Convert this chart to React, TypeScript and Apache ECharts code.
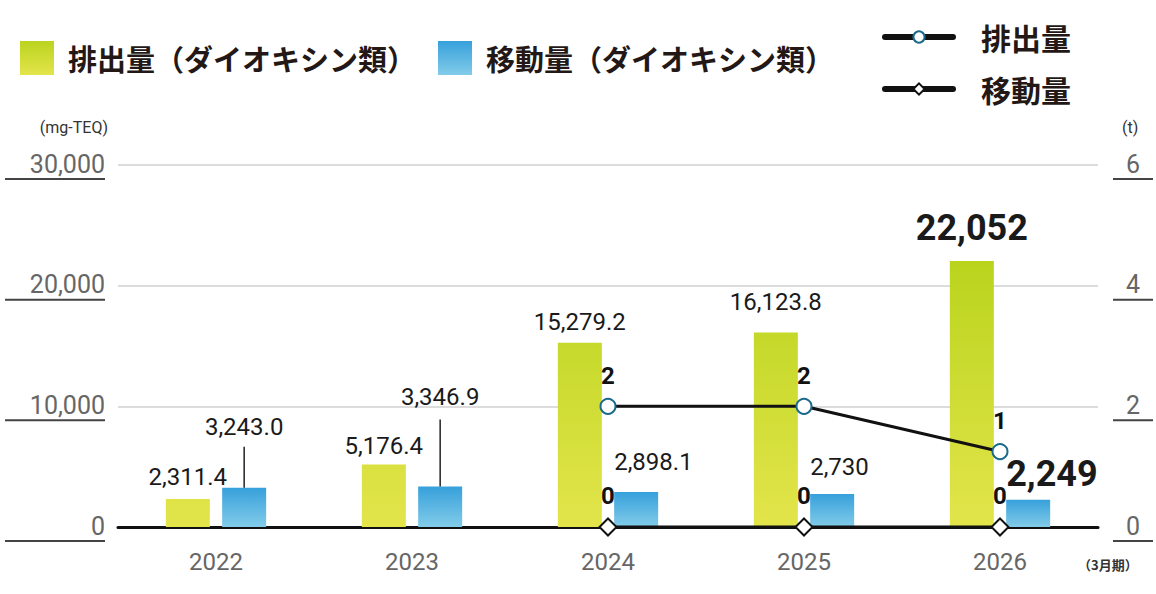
import React, { useEffect, useRef } from 'react';
import * as echarts from 'echarts';

const categories = ['2022', '2023', '2024', '2025', '2026'];
const emissionValues = [2311.4, 5176.4, 15279.2, 16123.8, 22052];
const transferValues = [3243.0, 3346.9, 2898.1, 2730, 2249];
const emissionLabels = ['2,311.4', '5,176.4', '15,279.2', '16,123.8', '22,052'];
const transferLabels = ['3,243.0', '3,346.9', '2,898.1', '2,730', '2,249'];
const emissionTons: (number | null)[] = [null, null, 2, 2, 1.25];
const emissionTonLabels = ['', '', '2', '2', '1'];
const transferTons: (number | null)[] = [null, null, 0, 0, 0];
const transferTonLabels = ['', '', '0', '0', '0'];

const NUM_FONT = 'Roboto, "DejaVu Sans", sans-serif';
const JP_FONT = '"Noto Sans CJK JP", "Noto Sans", sans-serif';
const TEXT_DARK = '#231815';

export default function App() {
  const ref = useRef<HTMLDivElement>(null);

  useEffect(() => {
    const chart = echarts.init(ref.current!, null, { renderer: 'svg' });

    const greenGlobal = new echarts.graphic.LinearGradient(
      0, 250, 0, 527,
      [
        { offset: 0, color: '#b8d31b' },
        { offset: 1, color: '#e3e54b' },
      ],
      true
    );
    const greenLocal = new echarts.graphic.LinearGradient(0, 0, 0, 1, [
      { offset: 0, color: '#bbd41f' },
      { offset: 1, color: '#e3e54b' },
    ]);
    const blueLocal = new echarts.graphic.LinearGradient(0, 0, 0, 1, [
      { offset: 0, color: '#37a0db' },
      { offset: 1, color: '#82cce9' },
    ]);

    const numLabel = {
      fontFamily: NUM_FONT,
      fontSize: 24,
      color: '#1a1a1a',
    };

    const emissionDist = [10, 7, 9, 18, 15];
    const emissionData = emissionValues.map((v, i) => ({
      value: v,
      label:
        i === 4
          ? { ...numLabel, fontSize: 36, fontWeight: 'bold', distance: emissionDist[i], formatter: emissionLabels[i] }
          : { ...numLabel, distance: emissionDist[i], formatter: emissionLabels[i] },
    }));

    const leaderHeights = [41, 67, 0, 0, 0];
    const leaderLineHeights = [40, 46, 0, 0, 0];
    const transferDist = [0, 0, 18, 15, 8];
    const transferData = transferValues.map((v, i) => {
      if (leaderHeights[i] > 0) {
        return {
          value: v,
          label: {
            distance: 0,
            formatter: `{v|${transferLabels[i]}}\n{l|}`,
            rich: {
              v: { ...numLabel, lineHeight: leaderLineHeights[i], align: 'center' },
              l: { width: 1.5, height: leaderHeights[i], backgroundColor: '#222', align: 'center' },
            },
          },
        };
      }
      return {
        value: v,
        label: {
          ...numLabel,
          fontSize: i === 4 ? 36 : 24,
          fontWeight: i === 4 ? 'bold' : 'normal',
          align: 'left',
          offset: [-22, 0],
          distance: transferDist[i],
          formatter: transferLabels[i],
        },
      };
    });

    const option: any = {
      animation: false,
      grid: { left: 118, right: 58, top: 165, bottom: 67 },
      legend: [
        {
          left: 20,
          top: 41,
          padding: 0,
          itemWidth: 34,
          itemHeight: 34,
          itemGap: 22,
          icon: 'rect',
          selectedMode: false,
          textStyle: { fontFamily: JP_FONT, fontSize: 29, fontWeight: 'bold', color: TEXT_DARK, padding: [0, 0, 0, 9] },
          data: [
            { name: '排出量（ダイオキシン類）', itemStyle: { color: greenLocal } },
            { name: '移動量（ダイオキシン類）', itemStyle: { color: blueLocal } },
          ],
        },
        {
          left: 882,
          top: 22,
          padding: 0,
          orient: 'vertical',
          itemWidth: 68,
          itemHeight: 14,
          itemGap: 22,
          selectedMode: false,
          lineStyle: { width: 6, cap: 'round', color: '#111' },
          textStyle: { fontFamily: JP_FONT, fontSize: 30, fontWeight: 'bold', color: TEXT_DARK, padding: [0, 0, 0, 23] },
          data: ['排出量', '移動量'],
        },
      ],
      xAxis: {
        type: 'category',
        data: categories,
        axisLine: { lineStyle: { color: '#111', width: 3 } },
        axisTick: { show: false },
        axisLabel: { fontFamily: NUM_FONT, fontSize: 24, color: '#666', margin: 23 },
      },
      yAxis: [
        {
          type: 'value',
          min: 0,
          max: 30000,
          interval: 10000,
          position: 'left',
          name: '(mg-TEQ)',
          nameLocation: 'end',
          nameGap: 38,
          nameTextStyle: { fontFamily: NUM_FONT, fontSize: 16, color: '#333', align: 'right', verticalAlign: 'middle', padding: [0, 10, 0, 0] },
          axisLine: { show: false },
          axisTick: { show: false },
          splitLine: { lineStyle: { color: '#dcdcdc', width: 2 } },
          axisLabel: {
            margin: 13,
            formatter: (v: number) => `{v|${v.toLocaleString('en-US')}}\n{u|}`,
            rich: {
              v: { fontFamily: NUM_FONT, fontSize: 25, color: '#666', lineHeight: 28, align: 'right' },
              u: { width: 100, height: 2, lineHeight: 2, backgroundColor: '#444', align: 'right' },
            },
          },
        },
        {
          type: 'value',
          min: 0,
          max: 6,
          interval: 2,
          position: 'right',
          name: '(t)',
          nameLocation: 'end',
          nameGap: 38,
          nameTextStyle: { fontFamily: NUM_FONT, fontSize: 16, color: '#333', align: 'left', verticalAlign: 'middle', padding: [0, 0, 0, 24] },
          axisLine: { show: false },
          axisTick: { show: false },
          splitLine: { show: false },
          axisLabel: {
            margin: 15,
            formatter: (v: number) => `{v|${v}}\n{u|}`,
            rich: {
              v: { fontFamily: NUM_FONT, fontSize: 25, color: '#666', lineHeight: 28, width: 40, align: 'center' },
              u: { width: 40, height: 2, lineHeight: 2, backgroundColor: '#444', align: 'center' },
            },
          },
        },
      ],
      series: [
        {
          name: '排出量（ダイオキシン類）',
          type: 'bar',
          barWidth: 44,
          barGap: '28%',
          itemStyle: { color: greenGlobal },
          label: { show: true, position: 'top' },
          data: emissionData,
        },
        {
          name: '移動量（ダイオキシン類）',
          type: 'bar',
          barWidth: 44,
          barGap: '28%',
          itemStyle: { color: blueLocal },
          label: { show: true, position: 'top' },
          data: transferData,
        },
        {
          name: '排出量',
          type: 'line',
          yAxisIndex: 1,
          z: 5,
          symbol: 'circle',
          symbolSize: 15,
          itemStyle: { color: '#fff', borderColor: '#1b6a8c', borderWidth: 2 },
          lineStyle: { color: '#111', width: 3 },
          label: {
            show: true,
            position: 'top',
            distance: 10,
            fontFamily: NUM_FONT,
            fontSize: 24,
            fontWeight: 'bold',
            color: '#111',
            formatter: (p: any) => emissionTonLabels[p.dataIndex],
          },
          data: emissionTons,
        },
        {
          name: '移動量',
          type: 'line',
          yAxisIndex: 1,
          z: 5,
          symbol: 'diamond',
          symbolSize: 17,
          itemStyle: { color: '#fff', borderColor: '#111', borderWidth: 2 },
          lineStyle: { color: '#111', width: 3 },
          label: {
            show: true,
            position: 'top',
            distance: 10,
            fontFamily: NUM_FONT,
            fontSize: 24,
            fontWeight: 'bold',
            color: '#111',
            formatter: (p: any) => transferTonLabels[p.dataIndex],
          },
          data: transferTons,
        },
      ],
      graphic: [
        {
          type: 'text',
          left: 1078,
          top: 558,
          style: { text: '（3月期）', fontFamily: JP_FONT, fontSize: 13, fontWeight: 'bold', fill: '#333' },
        },
      ],
    };

    chart.setOption(option);
    return () => chart.dispose();
  }, []);

  return <div ref={ref} style={{ position: 'absolute', left: 0, top: 0, width: 1156, height: 594 }} />;
}
